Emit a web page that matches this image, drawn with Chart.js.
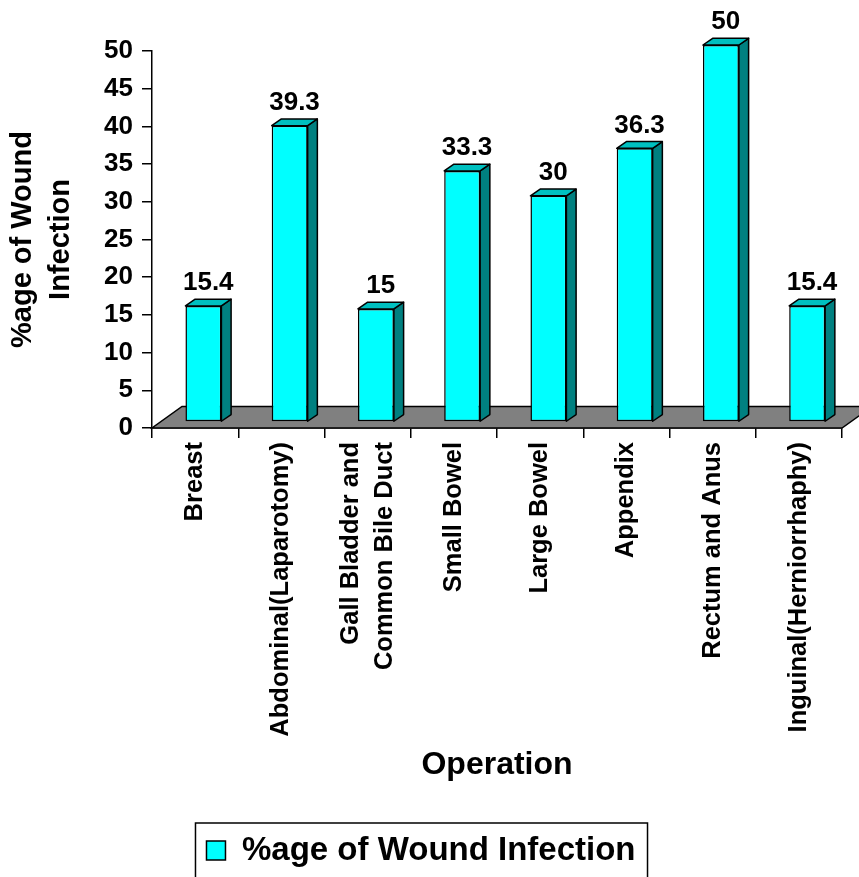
<!DOCTYPE html>
<html>
<head>
<meta charset="utf-8">
<script src="https://cdn.jsdelivr.net/npm/chart.js@4.4.1/dist/chart.umd.min.js"></script>
<style>
  html, body { margin: 0; padding: 0; background: #fff; }
</style>
</head>
<body>
<canvas id="chart" width="859" height="877"></canvas>
<script>
// data
const operations = ['Breast', 'Abdominal(Laparotomy)', ['Gall Bladder and', 'Common Bile Duct'], 'Small Bowel',
  'Large Bowel', 'Appendix', 'Rectum and Anus', 'Inguinal(Herniorrhaphy)'];
const infectionRates = [15.4, 39.3, 15, 33.3, 30, 36.3, 50, 15.4];
const rateLabels = ['15.4', '39.3', '15', '33.3', '30', '36.3', '50', '15.4'];
const seriesName = '%age of Wound Infection';
const yMin = 0, yMax = 50, yStep = 5;

const FONT = "'Liberation Sans', Arial, sans-serif";

// 3d look: floor depth, bar shift into the floor, bar depth
const floorDX = 30, floorDY = 21.5;
const shiftX = 8.3, shiftY = 6;
const barDX = 9.7, barDY = 6.7;

const bar3d = {
  id: 'bar3d',
  beforeDraw(chart) {
    // centre two-line category labels on their tick
    const xs = chart.scales.x;
    const items = xs.getLabelItems(chart.chartArea);
    items.forEach(it => {
      if (Array.isArray(it.label) && it.label.length > 1) {
        it.options.translation[0] -= (it.label.length - 1) * it.font.lineHeight / 2;
      }
    });
  },
  beforeDatasetsDraw(chart) {
    const { ctx, chartArea: a } = chart;
    const y0 = chart.scales.y.getPixelForValue(0);
    ctx.save();
    ctx.beginPath();
    ctx.moveTo(a.left, y0);
    ctx.lineTo(a.right, y0);
    ctx.lineTo(a.right + floorDX, y0 - floorDY);
    ctx.lineTo(a.left + floorDX, y0 - floorDY);
    ctx.closePath();
    ctx.fillStyle = '#808080';
    ctx.fill();
    ctx.lineWidth = 1.5;
    ctx.strokeStyle = '#000';
    ctx.stroke();
    ctx.restore();
    // front faces are drawn by chart.js, pushed back onto the floor
    ctx.save();
    ctx.translate(shiftX, -shiftY);
  },
  afterDatasetsDraw(chart) {
    const ctx = chart.ctx;
    ctx.restore();
    const meta = chart.getDatasetMeta(0);
    ctx.save();
    ctx.lineWidth = 1.5;
    ctx.strokeStyle = '#000';
    ctx.lineJoin = 'round';
    meta.data.forEach((bar, i) => {
      const p = bar.getProps(['x', 'y', 'base', 'width'], true);
      const l = p.x - p.width / 2 + shiftX, r = p.x + p.width / 2 + shiftX;
      const t = p.y - shiftY, b = p.base - shiftY;
      // side
      ctx.beginPath();
      ctx.moveTo(r, t);
      ctx.lineTo(r + barDX, t - barDY);
      ctx.lineTo(r + barDX, b - barDY);
      ctx.lineTo(r, b);
      ctx.closePath();
      ctx.fillStyle = '#008080';
      ctx.fill();
      ctx.stroke();
      // top
      ctx.beginPath();
      ctx.moveTo(l, t);
      ctx.lineTo(r, t);
      ctx.lineTo(r + barDX, t - barDY);
      ctx.lineTo(l + barDX, t - barDY);
      ctx.closePath();
      ctx.fillStyle = '#00c0c0';
      ctx.fill();
      ctx.stroke();
      // value label
      ctx.fillStyle = '#000';
      ctx.font = 'bold 26px ' + FONT;
      ctx.textAlign = 'center';
      ctx.textBaseline = 'alphabetic';
      ctx.fillText(rateLabels[i], (l + r) / 2 + barDX / 2, t - barDY - 9);
    });
    ctx.restore();
  },
  afterDraw(chart) {
    // frame round the legend
    const hb = chart.legend.legendHitBoxes[0];
    if (!hb) return;
    const ctx = chart.ctx;
    ctx.save();
    ctx.lineWidth = 1.5;
    ctx.strokeStyle = '#000';
    ctx.strokeRect(hb.left - 11, hb.top - 11, hb.width + 23, 80);
    ctx.restore();
  }
};

new Chart(document.getElementById('chart'), {
  type: 'bar',
  data: {
    labels: operations,
    datasets: [{
      label: seriesName,
      data: infectionRates,
      backgroundColor: '#00ffff',
      borderColor: '#000',
      borderWidth: 1.5,
      borderSkipped: false,
      categoryPercentage: 1,
      barPercentage: 0.417,
      clip: false
    }]
  },
  options: {
    responsive: false,
    animation: false,
    devicePixelRatio: 1,
    layout: { padding: { top: 51, right: 17, left: 0, bottom: 0 } },
    plugins: {
      tooltip: { enabled: false },
      legend: {
        position: 'bottom',
        labels: {
          color: '#000',
          font: { family: FONT, size: 33, weight: 'bold' },
          boxWidth: 19,
          boxHeight: 19,
          padding: 0
        }
      }
    },
    scales: {
      x: {
        afterFit(scale) { scale.height = 406; },
        grid: { drawOnChartArea: false, color: '#000', lineWidth: 1.5, tickLength: 10 },
        border: { color: '#000', width: 1.5 },
        ticks: {
          color: '#000',
          autoSkip: false,
          minRotation: 90,
          maxRotation: 90,
          padding: 4,
          font: { family: FONT, size: 25.5, weight: 'bold', lineHeight: 1.33 }
        },
        title: {
          display: true,
          text: 'Operation',
          color: '#000',
          font: { family: FONT, size: 32, weight: 'bold' },
          padding: { top: 0, bottom: 50 }
        }
      },
      y: {
        min: yMin,
        max: yMax,
        afterFit(scale) { scale.width = 152; },
        grid: { drawOnChartArea: false, color: '#000', lineWidth: 1.5, tickLength: 10 },
        border: { color: '#000', width: 1.5 },
        ticks: {
          stepSize: yStep,
          color: '#000',
          padding: 9,
          font: { family: FONT, size: 26, weight: 'bold' }
        },
        title: {
          display: true,
          text: ['%age of Wound', 'Infection'],
          color: '#000',
          font: { family: FONT, size: 29, weight: 'bold', lineHeight: 1.31 },
          padding: { top: 4, bottom: 0 }
        }
      }
    }
  },
  plugins: [bar3d]
});
</script>
</body>
</html>
